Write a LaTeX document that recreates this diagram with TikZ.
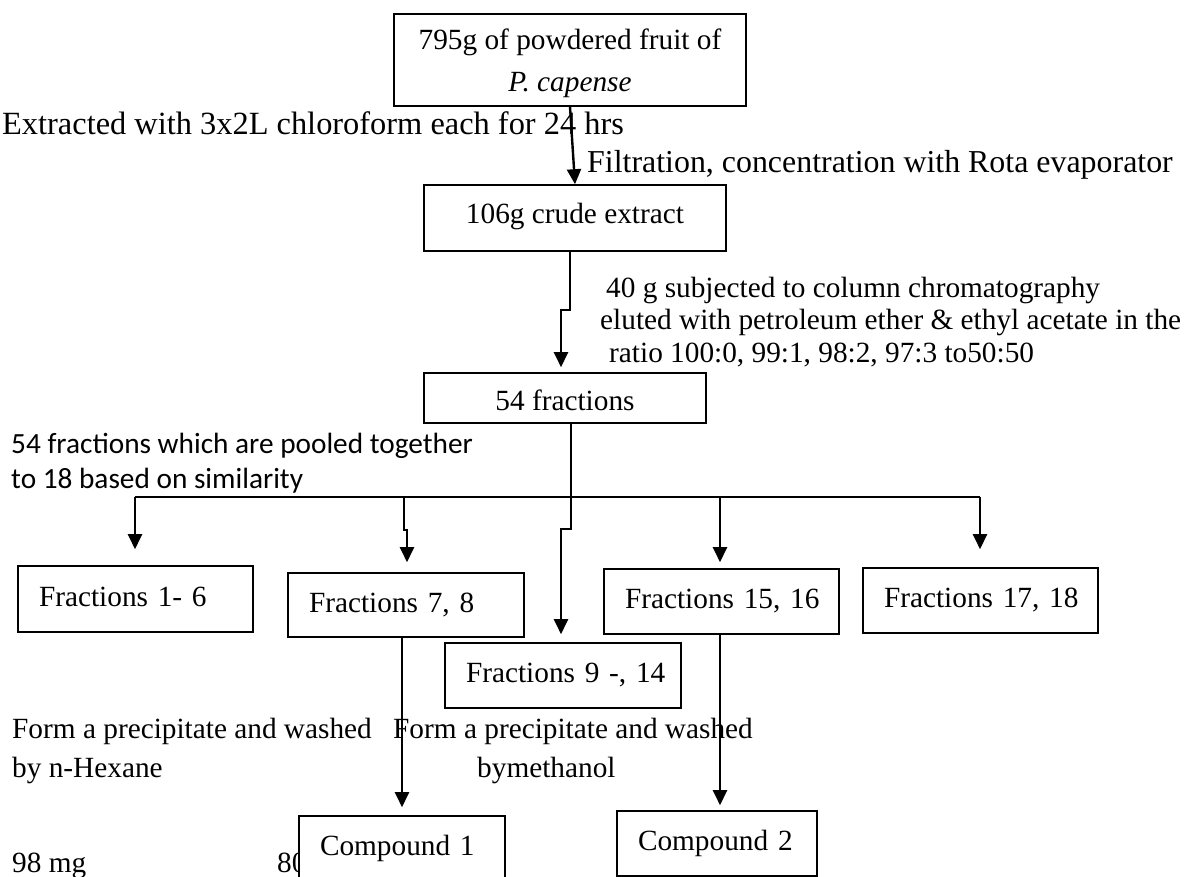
\documentclass[tikz,border=0pt]{standalone}
\usepackage{fontspec}
\setmainfont{Liberation Serif}
\newfontfamily\calibri{Carlito}
\usetikzlibrary{arrows.meta}
\tikzset{
  box/.style={draw, line width=1.6pt, fill=white, inner ysep=0pt,
    font=\fontsize{29.3}{42}\selectfont},
  cbox/.style={box, align=center},
  lbox/.style={box, align=left, inner xsep=15pt, text height=20pt, text depth=6pt},
  txt/.style={inner sep=0pt, anchor=base west, align=left},
  conn/.style={line width=2.4pt},
  arr/.style={conn, -{Triangle[width=14pt,length=15pt]}}
}
\begin{document}
\begin{tikzpicture}[x=1pt,y=-1pt]
\clip (0,0) rectangle (1186,877);
\fill[white] (0,0) rectangle (1186,877);

% free texts (base anchor = baseline of the last line)
\node[txt, font=\fontsize{32.4}{38}\selectfont] (ext) at (2,135) {Extracted with 3x2L chloroform each for 24 hrs};
\node[txt, font=\fontsize{31.9}{38}\selectfont] (filt) at (587,173) {Filtration, concentration with Rota evaporator};
\node[txt, font=\fontsize{29.3}{32.5}\selectfont] (col) at (600,362) {\hspace*{6pt}40 g subjected to column chromatography\\eluted with petroleum ether \& ethyl acetate in the\\\hspace*{9pt}ratio 100:0, 99:1, 98:2, 97:3 to50:50};
\node[txt, font=\calibri\fontsize{29.3}{35}\selectfont] (pool) at (11,488) {54 fractions which are pooled together\\to 18 based on similarity};
\node[txt, font=\fontsize{29.3}{39}\selectfont] (form1) at (12,777) {Form a precipitate and washed\\by n-Hexane};
\node[txt, font=\fontsize{29.3}{39}\selectfont] (form2) at (393,777) {Form a precipitate and washed\\\hspace*{84pt}bymethanol};
\node[txt, font=\fontsize{29.3}{35}\selectfont] (mg98) at (12,872) {98 mg};
\node[txt, font=\fontsize{29.3}{35}\selectfont] (mg80) at (277,872) {80};

% boxes
\node[cbox, minimum width=352pt, minimum height=92pt] (top) at (570,60) {\rule{0pt}{28pt}795g of powdered fruit of\\\textit{P. capense}};
\node[cbox, text height=20pt, text depth=8pt, minimum width=302pt, minimum height=66pt] (crude) at (575,218) {106g crude extract};
\node[cbox, text height=26pt, text depth=2pt, minimum width=282pt, minimum height=50pt] (f54) at (565,398) {54 fractions};
\node[lbox, text width=205pt, minimum height=66pt] (f16) at (135.5,599) {\hspace*{6pt}Fractions 1- 6};
\node[lbox, text width=206pt, minimum height=64pt] (f78) at (406,605) {\hspace*{6pt}Fractions 7, 8};
\node[lbox, text width=206pt, minimum height=65pt] (f914) at (563,675.5) {\hspace*{6pt}Fractions 9 -, 14};
\node[lbox, text width=205pt, minimum height=65pt] (f1516) at (721.5,601.5) {\hspace*{6pt}Fractions 15, 16};
\node[lbox, text width=205pt, minimum height=65pt] (f1718) at (980.5,600.5) {\hspace*{6pt}Fractions 17, 18};
\node[lbox, text width=176pt, minimum height=65pt] (comp1) at (402,848.5) {\hspace*{6pt}Compound 1};
\node[lbox, text width=170pt, minimum height=65pt] (comp2) at (717,843.5) {\hspace*{6pt}Compound 2};

% connector coordinates
\coordinate (j1) at (570,310);
\coordinate (j2) at (561,310);
\coordinate (t0) at (571,0);
\coordinate (t1) at (571,529);
\coordinate (t2) at (561,529);
\coordinate (busL) at (135,497);
\coordinate (busR) at (980,497);
\coordinate (b2) at (404,497);
\coordinate (b2a) at (404,530);
\coordinate (b2b) at (407,530);
\coordinate (b4) at (720,497);
\coordinate (c1x) at (402,0);

% connectors
\draw[arr] (top.south) -- (crude.north);
\draw[arr, shorten >=5pt] (crude.south -| j1) -- (j1) -- (j2) -- (f54.north -| j2);
\draw[conn] (busL) -- (busR);
\draw[arr, shorten >=8pt] (f54.south -| t0) -- (t1) -- (t2) -- (f914.north -| t2);
\draw[arr, shorten >=16pt] (busL) -- (f16.north -| busL);
\draw[arr, shorten >=10pt] (b2) -- (b2a) -- (b2b) -- (f78.north -| b2b);
\draw[arr, shorten >=6pt] (b4) -- (f1516.north -| b4);
\draw[arr, shorten >=18pt] (busR) -- (f1718.north -| busR);
\draw[arr, shorten >=8pt] (f78.south -| c1x) -- (comp1.north -| c1x);
\draw[arr, shorten >=5pt] (f1516.south -| b4) -- (comp2.north -| b4);
\end{tikzpicture}
\end{document}
